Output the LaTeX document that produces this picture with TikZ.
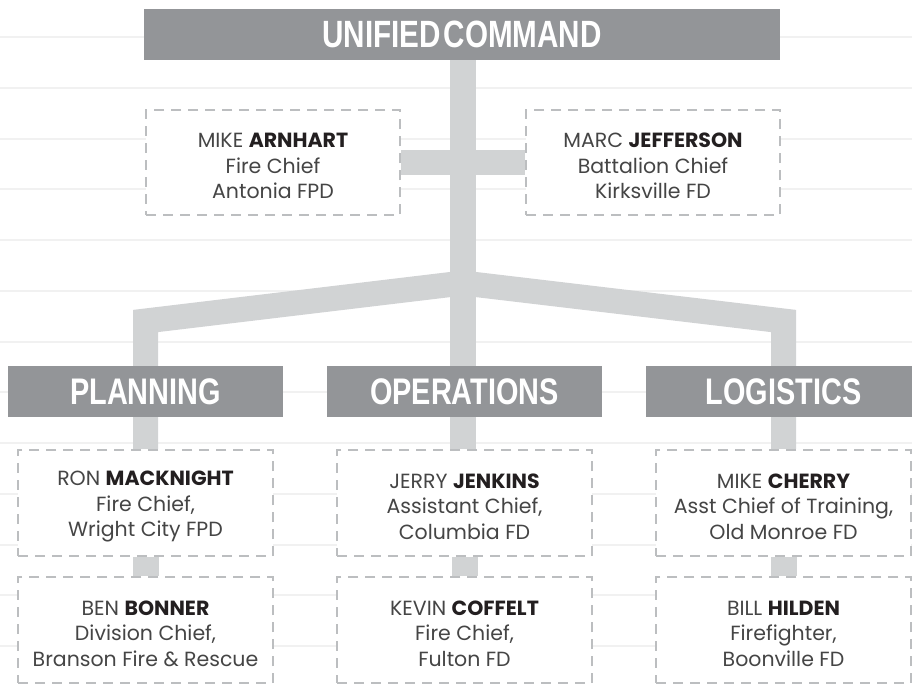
\documentclass[tikz,border=0pt]{standalone}
\usepackage{fontspec}
\usetikzlibrary{backgrounds}
\setmainfont{Poppins}
\newfontfamily\headfont{Liberation Sans}
\definecolor{barc}{HTML}{939598}
\definecolor{connc}{HTML}{D1D3D4}
\definecolor{dashc}{HTML}{BCBEC0}
\definecolor{txtc}{HTML}{454545}
\definecolor{txtb}{HTML}{231F20}
\definecolor{bglc}{HTML}{F1F1F1}
\newcommand\lname[1]{\textbf{\color{txtb}#1}}
\newcommand\hlabel[1]{\scalebox{0.78}[1]{#1}}
\tikzset{
  headbar/.style={fill=barc, inner sep=0pt, minimum height=51pt, text=white,
    font=\headfont\bfseries\fontsize{37}{37}\selectfont},
  person/.style={draw=dashc, dash pattern=on 10pt off 7pt, line width=2.5pt, fill=white,
    minimum width=255pt, minimum height=106pt, inner sep=0pt},
  ptext/.style={align=center, inner sep=0pt, text=txtc, yshift=-3.5pt,
    font=\fontsize{20.5}{25.5}\selectfont},
  link/.style={draw=connc, line width=26pt, line join=miter},
  bgline/.style={draw=bglc, line width=2pt}
}
\begin{document}
\begin{tikzpicture}[x=1pt,y=-1pt]
\useasboundingbox (0,0) rectangle (912,685);

% person boxes
\node[person, minimum width=254pt, minimum height=105pt, label={[ptext]center:{MIKE \lname{ARNHART}\\Fire Chief\\Antonia FPD}}] (arn) at (273,162.5) {};
\node[person, minimum width=254pt, minimum height=105pt, label={[ptext]center:{MARC \lname{JEFFERSON}\\Battalion Chief\\Kirksville FD}}] (jef) at (653,162.5) {};
\node[person, label={[ptext]center:{RON \lname{MACKNIGHT}\\Fire Chief,\\Wright City FPD}}] (ron) at (145.5,503) {};
\node[person, label={[ptext]center:{BEN \lname{BONNER}\\Division Chief,\\Branson Fire \& Rescue}}] (ben) at (145.5,630) {};
\node[person, label={[ptext]center:{JERRY \lname{JENKINS}\\Assistant Chief,\\Columbia FD}}] (jerry) at (464.5,503) {};
\node[person, label={[ptext]center:{KEVIN \lname{COFFELT}\\Fire Chief,\\Fulton FD}}] (kevin) at (464.5,630) {};
\node[person, label={[ptext]center:{MIKE \lname{CHERRY}\\Asst Chief of Training,\\Old Monroe FD}}] (cherry) at (783.5,503) {};
\node[person, label={[ptext]center:{BILL \lname{HILDEN}\\Firefighter,\\Boonville FD}}] (hilden) at (783.5,630) {};

% header bars
\node[headbar, minimum width=636pt, font=\headfont\bfseries\fontsize{38}{38}\selectfont] (uc) at (462,34.5) {\hlabel{UNIFIED\hspace{0.1em}COMMAND}};
\node[headbar, minimum width=275pt] (plan) at (145.5,391.5) {\hlabel{PLANNING}};
\node[headbar, minimum width=275pt] (ops) at (464.5,391.5) {\hlabel{OPERATIONS}};
\node[headbar, minimum width=275pt] (logi) at (783.5,391.5) {\hlabel{LOGISTICS}};

\coordinate (hub) at (463,283);
\coordinate (plk) at (145.5,321);
\coordinate (lgk) at (783.5,321);

\begin{scope}[on background layer]
\foreach \i in {0,...,12} \draw[bgline] (0,37+50.75*\i) -- (912,37+50.75*\i);
\draw[link] (uc.south -| hub) -- (hub |- jerry.north);
\draw[link, line width=25pt] (arn.east) -- (jef.west);
\draw[link, line width=25pt] (ron.north) -- (plk) -- (hub);
\draw[link, line width=25pt] (cherry.north) -- (lgk) -- (hub);
\draw[link] (ron.south) -- (ben.north);
\draw[link] (jerry.south) -- (kevin.north);
\draw[link] (cherry.south) -- (hilden.north);
\end{scope}
\end{tikzpicture}
\end{document}
